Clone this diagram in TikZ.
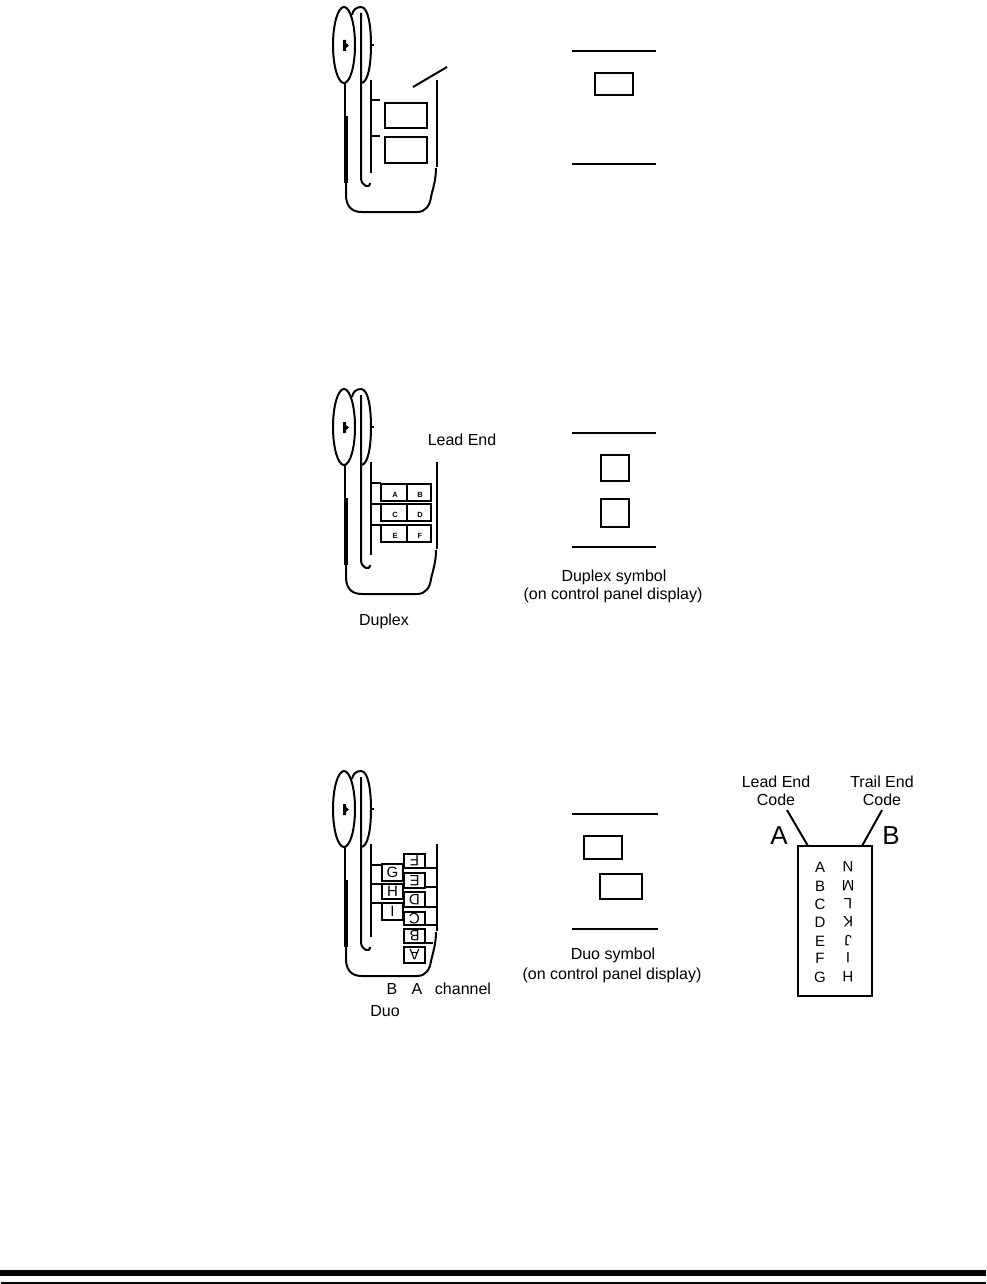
\documentclass[tikz,border=0pt]{standalone}
\usepackage{fontspec}
\setmainfont{Liberation Sans}
\tikzset{
	rule/.style={line width=2pt},
	paper/.style={draw, line width=2pt, inner sep=0pt, outer sep=0pt},
	tag/.style={inner sep=0pt, font=\fontsize{16}{18}\selectfont},
	tiny/.style={inner sep=0pt, font=\bfseries\fontsize{7.5}{8}\selectfont},
	cell/.style={inner sep=0pt, font=\fontsize{15}{16}\selectfont},
	bigtag/.style={inner sep=0pt, font=\fontsize{26}{28}\selectfont},
	filmpath/.pic={
		\draw[rule] (361,83) .. controls (368,83) and (371,65) .. (371,45) .. controls (371,25) and (368,7) .. (361,7) .. controls (356,7) and (353,10) .. (352,15);
		\draw[rule, fill=white] (344,45) ellipse [x radius=11, y radius=38];
		\fill (343,40) -- (346,40) -- (346,43) -- (349,45.5) -- (346,48) -- (346,51) -- (343,51) -- cycle;
		\draw[rule] (371,45) -- (374,45);
		\draw[rule] (345,83) -- (345,183);
		\draw[line width=3.5pt] (346,116) -- (346,183);
		\draw[rule] (346,183) -- (346,197) .. controls (347,207) and (352,212) .. (362,212) -- (417,212) .. controls (426,212) and (430,205) .. (431,197) .. controls (433,188) and (436,180) .. (436,168);
		\draw[rule] (361,13) -- (361,178) .. controls (361,186) and (370,189) .. (370,183);
		\draw[rule] (371,80) coordinate (innertop) -- (371,173) coordinate (innerend);
		\draw[rule] (437,80) coordinate (outertop) -- (437,167) coordinate (outerend);
	}
}
\begin{document}
\begin{tikzpicture}[x=1pt, y=-1pt]
	\useasboundingbox (0,0) rectangle (986,1284);

	\pic at (0,0) {filmpath};
	\node[paper, minimum width=42pt, minimum height=25pt] (topA) at (406,115.5) {};
	\node[paper, minimum width=42pt, minimum height=26pt] (topB) at (406,150) {};
	\draw[rule] (371,100) -- (380,100);
	\draw[rule] (371,136) -- (380,136);
	\draw[rule] (413,87) -- (447,67);
	\coordinate (topsymL) at (572,51);
	\coordinate (topsymR) at (656,51);
	\draw[rule] (topsymL) -- (topsymR);
	\draw[rule] (572,164) -- (656,164);
	\node[paper, minimum width=38pt, minimum height=22pt] (topsym) at (614,84) {};

	\pic at (0,382) {filmpath};
	\foreach \rowy/\nameL/\nameR/\txtL/\txtR in {492.5/A/B/A/B, 512.5/C/D/C/D, 533.5/E/F/E/F} {
		\node[paper, minimum width=26pt, minimum height=17pt] (dup\nameL) at (394,\rowy) {};
		\node[paper, minimum width=24pt, minimum height=17pt] (dup\nameR) at (419,\rowy) {};
		\node[tiny] at (395,\rowy+2.5) {\txtL};
		\node[tiny] at (420,\rowy+2.5) {\txtR};
	}
	\draw[rule] (371,483) -- (381,483);
	\draw[rule] (371,504) -- (381,504);
	\draw[rule] (371,525) -- (381,525);
	\node[tag] (leadend) at (462,440) {Lead End};
	\node[tag] (duplex) at (384,621) {Duplex};
	\draw[rule] (572,433) -- (656,433);
	\draw[rule] (572,547) -- (656,547);
	\node[paper, minimum width=28pt, minimum height=26pt] (dupsymA) at (615,468) {};
	\node[paper, minimum width=28pt, minimum height=28pt] (dupsymB) at (615,513) {};
	\node[tag] (dupsymtxt) at (614,577) {Duplex symbol};
	\node[tag] (dupsymsub) at (613,595) {(on control panel display)};

	\pic at (0,764) {filmpath};
	\node[paper, minimum width=21pt, minimum height=17pt] (duoG) at (392.5,872.5) {};
	\node[paper, minimum width=21pt, minimum height=15pt] (duoH) at (392.5,891.5) {};
	\node[paper, minimum width=21pt, minimum height=17pt] (duoI) at (392.5,911.5) {};
	\node[cell] at (duoG) {G};
	\node[cell] at (duoH) {H};
	\node[cell] at (duoI) {I};
	\foreach \boxname/\boxy/\boxh in {F/861/14, E/880.5/15, D/899.5/15, C/918.5/13, B/936/14, A/955/16} {
		\node[paper, minimum width=21pt, minimum height=\boxh pt] (duo\boxname) at (414.5,\boxy) {};
		\node[cell, rotate=180] at (duo\boxname) {\boxname};
	}
	\draw[rule] (371,865) -- (382,865);
	\draw[rule] (371,884) -- (382,884);
	\draw[rule] (371,903) -- (382,903);
	\draw[rule] (403,868) -- (437,868);
	\draw[rule] (425,887) -- (437,887);
	\draw[rule] (425,907) -- (437,907);
	\draw[rule] (425,925) -- (437,925);
	\draw[rule] (425,943) -- (433,943);
	\node[tag] (chanB) at (392,989) {B};
	\node[tag] (chanA) at (417,989) {A};
	\node[tag] (channel) at (463,989) {channel};
	\node[tag] (duo) at (385,1011) {Duo};
	\draw[rule] (572,814) -- (658,814);
	\draw[rule] (572,929) -- (658,929);
	\node[paper, minimum width=38pt, minimum height=23pt] (duosymA) at (603,847.5) {};
	\node[paper, minimum width=42pt, minimum height=25pt] (duosymB) at (621,886.5) {};
	\node[tag] (duosymtxt) at (613,955) {Duo symbol};
	\node[tag] (duosymsub) at (612,975) {(on control panel display)};

	\node[paper, minimum width=74pt, minimum height=150pt] (leader) at (835,921) {};
	\node[tag] (leadtxt) at (776,782) {Lead End};
	\node[tag] (leadcode) at (776,800) {Code};
	\node[tag] (trailtxt) at (882,782) {Trail End};
	\node[tag] (trailcode) at (882,800) {Code};
	\node[bigtag] (bigA) at (779,836) {A};
	\node[bigtag] (bigB) at (891,836) {B};
	\draw[rule] ([xshift=11pt, yshift=-4pt]leadcode.south) -- ([xshift=-27pt]leader.north);
	\draw[rule] ([yshift=-4pt]trailcode.south) -- ([xshift=27pt]leader.north);
	\foreach \letL/\letR/\lety in {A/N/867, B/M/886, C/L/904, D/K/922, E/J/941, F/I/958, G/H/977} {
		\node[cell] (code\letL) at (820,\lety) {\letL};
		\node[cell, rotate=180] (code\letR) at (848,\lety) {\letR};
	}

	\fill (0,1270) rectangle (986,1276);
	\fill (1,1282) rectangle (986,1284);
\end{tikzpicture}
\end{document}
